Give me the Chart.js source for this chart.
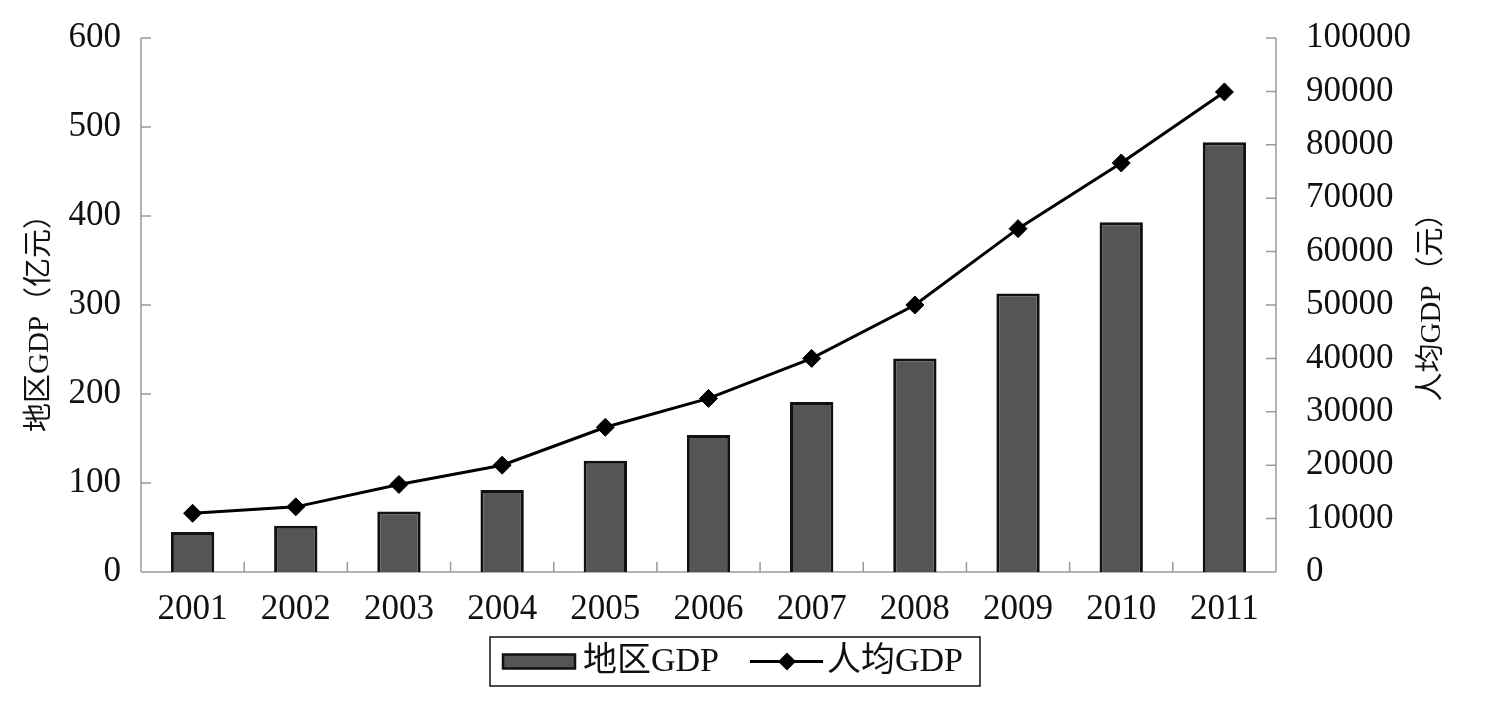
<!DOCTYPE html>
<html>
<head>
<meta charset="utf-8">
<script src="https://cdn.jsdelivr.net/npm/chart.js@4/dist/chart.umd.min.js"></script>
<style>
  html, body { margin: 0; padding: 0; background: #fff; }
  #wrap { width: 1486px; height: 706px; }
</style>
</head>
<body>
<div id="wrap"><canvas id="c" width="1486" height="706"></canvas></div>
<script>
const years = ['2001','2002','2003','2004','2005','2006','2007','2008','2009','2010','2011'];
const regionGDP = [45, 52, 68, 92, 125, 154, 191, 240, 313, 393, 483];
const perCapitaGDP = [11000, 12200, 16400, 20000, 27100, 32500, 40000, 50000, 64300, 76600, 89900];
const leftTicks = { min: 0, max: 600, step: 100 };
const rightTicks = { min: 0, max: 100000, step: 10000 };
const leftTitle = '地区GDP（亿元）';
const rightTitle = '人均GDP（元）';
const seriesNames = ['地区GDP', '人均GDP'];

const FONT = '"Liberation Serif", "Times New Roman", "Noto Sans CJK SC", serif';
const axisColor = '#9a9a9a';

const decor = {
  id: 'decor',
  beforeDatasetsDraw(chart) {
    const ctx = chart.ctx;
    const a = chart.chartArea;
    const y = chart.scales.y, y1 = chart.scales.y1;
    ctx.save();
    ctx.strokeStyle = axisColor;
    ctx.lineWidth = 1.5;
    ctx.beginPath();
    ctx.moveTo(a.left, a.top); ctx.lineTo(a.left, a.bottom);
    ctx.moveTo(a.right, a.top); ctx.lineTo(a.right, a.bottom);
    ctx.moveTo(a.left, a.bottom); ctx.lineTo(a.right, a.bottom);
    y.ticks.forEach(t => {
      const py = y.getPixelForValue(t.value);
      ctx.moveTo(a.left, py); ctx.lineTo(a.left + 10, py);
    });
    y1.ticks.forEach(t => {
      const py = y1.getPixelForValue(t.value);
      ctx.moveTo(a.right - 10, py); ctx.lineTo(a.right, py);
    });
    const n = years.length;
    const w = (a.right - a.left) / n;
    for (let i = 1; i < n; i++) {
      const px = a.left + w * i;
      ctx.moveTo(px, a.bottom); ctx.lineTo(px, a.bottom - 10);
    }
    ctx.stroke();
    ctx.restore();
  },
  afterDraw(chart) {
    const ctx = chart.ctx;
    ctx.save();
    ctx.fillStyle = '#111';
    ctx.font = '29px ' + FONT;
    ctx.textAlign = 'center';
    ctx.textBaseline = 'middle';
    ctx.save();
    ctx.translate(40, 316);
    ctx.rotate(-Math.PI / 2);
    ctx.fillText(leftTitle, 0, 0);
    ctx.restore();
    ctx.save();
    ctx.translate(1432, 300);
    ctx.rotate(-Math.PI / 2);
    ctx.fillText(rightTitle, 0, 0);
    ctx.restore();

    // legend
    const bx = 490, by = 637, bw = 490, bh = 49;
    ctx.strokeStyle = '#111';
    ctx.lineWidth = 1.5;
    ctx.strokeRect(bx, by, bw, bh);
    const cy = by + bh / 2;
    ctx.fillStyle = '#555';
    ctx.fillRect(503, cy - 7, 72, 14);
    ctx.strokeStyle = '#111';
    ctx.lineWidth = 2.5;
    ctx.strokeRect(503, cy - 7, 72, 14);
    ctx.fillStyle = '#111';
    ctx.font = '34px ' + FONT;
    ctx.textAlign = 'left';
    ctx.fillText(seriesNames[0], 583, cy + 1);
    ctx.strokeStyle = '#000';
    ctx.lineWidth = 3;
    ctx.beginPath();
    ctx.moveTo(750, cy); ctx.lineTo(823, cy);
    ctx.stroke();
    ctx.fillStyle = '#000';
    ctx.beginPath();
    ctx.moveTo(787, cy - 9); ctx.lineTo(796, cy); ctx.lineTo(787, cy + 9); ctx.lineTo(778, cy);
    ctx.closePath();
    ctx.fill();
    ctx.fillStyle = '#111';
    ctx.fillText(seriesNames[1], 827, cy + 1);
    ctx.restore();
  }
};

function fixV(width) {
  return function (s) { s.width = width; s.paddingTop = 0; s.paddingBottom = 0; };
}

new Chart(document.getElementById('c'), {
  data: {
    labels: years,
    datasets: [
      {
        type: 'line',
        label: seriesNames[1],
        data: perCapitaGDP,
        yAxisID: 'y1',
        borderColor: '#000',
        borderWidth: 3,
        pointStyle: 'rectRot',
        pointRadius: 9,
        pointBackgroundColor: '#000',
        pointBorderColor: '#000',
        pointBorderWidth: 1,
        tension: 0,
        order: 0
      },
      {
        type: 'bar',
        label: seriesNames[0],
        data: regionGDP,
        yAxisID: 'y',
        backgroundColor: '#555',
        borderColor: '#111',
        borderWidth: 3,
        categoryPercentage: 1,
        barPercentage: 0.42,
        order: 1
      }
    ]
  },
  options: {
    responsive: false,
    animation: false,
    layout: { padding: { top: 38, left: 0, right: 0, bottom: 0 } },
    plugins: { legend: { display: false }, tooltip: { enabled: false } },
    scales: {
      x: {
        type: 'category',
        offset: true,
        grid: { display: false, offset: true, drawTicks: false },
        border: { display: false },
        ticks: { color: '#111', font: { family: FONT, size: 35 }, padding: 17, maxRotation: 0 },
        afterFit(s) { s.height = 134; s.paddingLeft = 0; s.paddingRight = 0; }
      },
      y: {
        position: 'left',
        min: leftTicks.min, max: leftTicks.max,
        grid: { display: false, drawTicks: false },
        border: { display: false },
        ticks: { stepSize: leftTicks.step, color: '#111', font: { family: FONT, size: 35 }, padding: 20,
                 callback: v => String(v) },
        afterFit: fixV(141)
      },
      y1: {
        position: 'right',
        min: rightTicks.min, max: rightTicks.max,
        grid: { display: false, drawTicks: false },
        border: { display: false },
        ticks: { stepSize: rightTicks.step, color: '#111', font: { family: FONT, size: 35 }, padding: 30,
                 callback: v => String(v) },
        afterFit: fixV(210)
      }
    }
  },
  plugins: [decor]
});
</script>
</body>
</html>
